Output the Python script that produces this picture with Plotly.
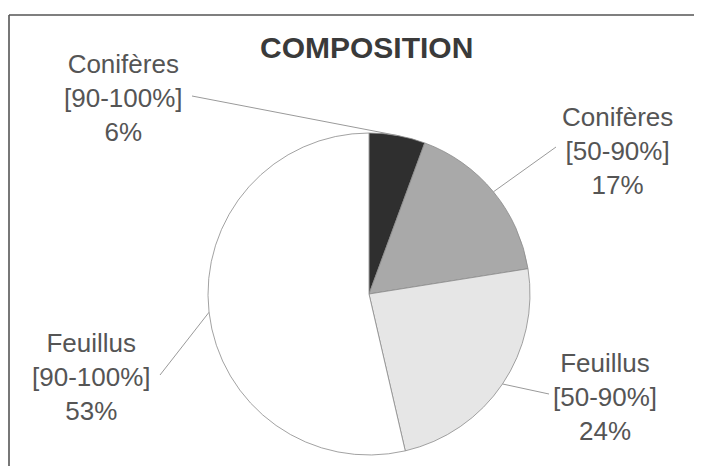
import math
import plotly.graph_objects as go

# ---- data ----
categories = ["Conifères [90-100%]", "Conifères [50-90%]", "Feuillus [50-90%]", "Feuillus [90-100%]"]
label_names = ["Conifères", "Conifères", "Feuillus", "Feuillus"]
label_ranges = ["[90-100%]", "[50-90%]", "[50-90%]", "[90-100%]"]
values = [5.6, 16.8, 23.8, 53.4]
pct_labels = ["6%", "17%", "24%", "53%"]
colors = ["#2f2f2f", "#a9a9a9", "#e6e6e6", "#ffffff"]

# page has an 8px body margin on every side; keep the figure inside the window
OFF = 8
W, H = 702 - 2 * OFF, 474 - 2 * OFF
FONT = "Liberation Sans, Arial, sans-serif"

# pie geometry in window pixels
CX, CY, R = 369, 294, 161

def px(x):
    return (x - OFF) / W

def py(y):
    return 1 - (y - OFF) / H

fig = go.Figure()
fig.add_trace(go.Pie(
    labels=categories,
    values=values,
    sort=False,
    direction="clockwise",
    rotation=0,
    textinfo="none",
    hoverinfo="label+percent",
    marker=dict(colors=colors, line=dict(color="#8a8a8a", width=0.8)),
    domain=dict(x=[px(CX - R), px(CX + R)], y=[py(CY + R), py(CY - R)]),
    showlegend=False,
))

# label block centres (window pixels) and leader end points near text
label_pos = [(123, 98), (617, 151), (605, 397), (91, 377)]
leader_end = [(192, 96), (556, 147), (549, 394), (160, 375)]

total = sum(values)
cum = 0
annotations = []
shapes = []
for i, v in enumerate(values):
    mid = (cum + v / 2) / total * 2 * math.pi
    cum += v
    ex = CX + R * math.sin(mid)
    ey = CY - R * math.cos(mid)
    lx, ly = leader_end[i]
    shapes.append(dict(type="line", xref="paper", yref="paper",
                       x0=px(ex), y0=py(ey), x1=px(lx), y1=py(ly),
                       line=dict(color="#9a9a9a", width=1)))
    tx, ty = label_pos[i]
    annotations.append(dict(
        x=px(tx), y=py(ty), xref="paper", yref="paper",
        text=f"{label_names[i]}<br>{label_ranges[i]}<br>{pct_labels[i]}",
        showarrow=False, xanchor="center", yanchor="middle", align="center",
        font=dict(family=FONT, size=26, color="#555555"),
    ))

annotations.append(dict(
    x=px(366.5), y=py(47), xref="paper", yref="paper",
    text="<b>COMPOSITION</b>", showarrow=False, xanchor="center", yanchor="middle",
    font=dict(family=FONT, size=30, color="#3a3a3a"),
))

# outer frame: top and left edges (right and bottom fall outside the window)
shapes.append(dict(type="line", xref="paper", yref="paper",
                   x0=px(9), y0=py(15), x1=1.0, y1=py(15),
                   line=dict(color="#555555", width=1.6)))
shapes.append(dict(type="line", xref="paper", yref="paper",
                   x0=px(9), y0=py(15), x1=px(9), y1=0.0,
                   line=dict(color="#555555", width=1.6)))

fig.update_layout(
    width=W, height=H,
    margin=dict(l=0, r=0, t=0, b=0),
    paper_bgcolor="#ffffff",
    plot_bgcolor="#ffffff",
    annotations=annotations,
    shapes=shapes,
)

fig.write_html("out.html", config={"displayModeBar": False})
